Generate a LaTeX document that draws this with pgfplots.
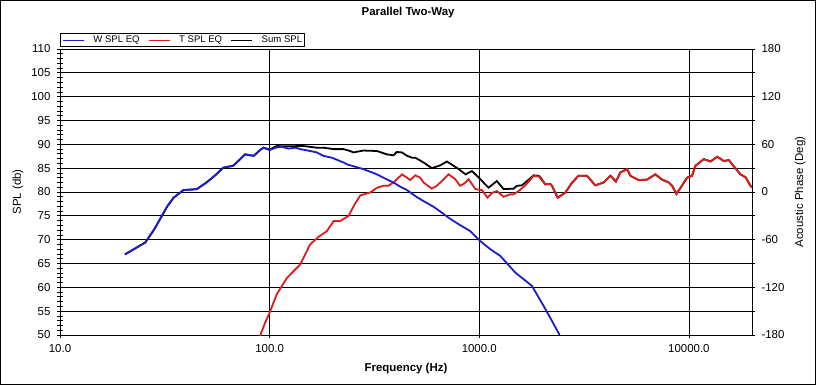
\documentclass[border=0pt]{standalone}
\usepackage{fontspec}
\setmainfont{Liberation Sans}
\usepackage{pgfplots}
\usepackage{pgfplotstable}
\pgfplotsset{compat=1.18}
\definecolor{wblue}{RGB}{28,28,205}
\definecolor{tred}{RGB}{222,28,28}

\pgfplotstableread{
f spl
20.4 66.9
22.5 68.0
25.5 69.4
28 72.0
30 74.3
32.5 77.0
34.8 78.8
38.8 80.4
44.9 80.6
50 82.0
55 83.5
60 85.1
67 85.5
72 86.8
76.3 87.9
80.7 87.7
84 87.6
90 88.8
93.4 89.3
100 88.8
107 89.3
114 89.5
123 89.1
132.5 89.3
140 89.0
156 88.6
168 88.3
180 87.6
198 87.2
225 86.2
234 85.8
280 84.8
325 83.7
376 82.3
390 82.0
420 81.1
452 80.4
469 79.9
505 78.9
542 78.1
605 76.9
652 75.9
714 74.6
800 73.2
874 72.2
906 71.8
1011 69.7
1129 68.0
1259 66.6
1485 63.1
1650 61.5
1784 60.3
2027 56.1
2200 53.3
2417 50.0
}\wtable

\pgfplotstableread{
f spl
90 49.8
95 52.5
100 54.7
108 58.5
121 62.0
140 64.8
156 69.0
170 70.5
187.6 71.8
202 73.9
217 73.9
238 75.0
255 77.5
271 79.3
302 79.9
325 80.9
349 81.3
368 81.3
390 82.0
428 83.7
452 83.0
469 82.5
495 83.5
523 83.0
542 82.0
594 80.7
627 81.3
652 82.0
714 83.7
768 82.7
810 81.3
850 81.8
889 82.7
958 80.6
1030 80.4
1094 78.8
1150 79.8
1213 80.2
1306 79.0
1400 79.5
1457 79.5
1540 80.2
1659 81.4
1818 83.4
1955 83.2
2066 81.6
2183 81.7
2222 81.3
2366 78.8
2576 79.9
2773 82.0
2978 83.4
3266 83.4
3578 81.4
3920 82.0
4220 83.4
4489 82.2
4710 84.1
5070 84.8
5260 83.4
5754 82.5
6310 82.6
6916 83.7
7447 82.6
8016 82.0
8318 81.3
8717 79.6
9102 80.8
9795 83.0
10350 83.4
10740 85.5
11770 86.9
12680 86.4
13650 87.4
14670 86.5
15500 86.7
16080 85.8
17620 83.7
18620 83.1
19680 81.3
20000 81.0
}\ttable

\pgfplotstableread{
f spl
20.4 66.9
22.5 68.0
25.5 69.4
28 72.0
30 74.3
32.5 77.0
34.8 78.8
38.8 80.4
44.9 80.6
50 82.0
55 83.5
60 85.1
67 85.5
72 86.8
76.3 87.9
80.7 87.7
84 87.6
90 88.8
93.4 89.3
100 88.9
108 89.65
114 89.6
125 89.6
145 89.65
168 89.3
180 89.3
202 89.0
225 89.0
242 88.6
251 88.3
280 88.7
325 88.6
362 87.9
390 87.7
404 88.4
428 88.3
452 87.6
478 87.2
495 87.2
542 86.2
594 85.0
652 85.6
701 86.4
755 85.5
798 84.8
860 83.7
923 84.4
1011 82.7
1107 80.9
1213 82.3
1306 80.6
1457 80.7
1514 81.3
1599 81.4
1691 82.3
1818 83.5
1920 83.4
2066 81.6
2183 81.7
2222 81.3
2366 78.8
2576 79.9
2773 82.0
2978 83.4
3266 83.4
3578 81.4
3920 82.0
4220 83.4
4489 82.2
4710 84.1
5070 84.8
5260 83.4
5754 82.5
6310 82.6
6916 83.7
7447 82.6
8016 82.0
8318 81.3
8717 79.6
9102 80.8
9795 83.0
10350 83.4
10740 85.5
11770 86.9
12680 86.4
13650 87.4
14670 86.5
15500 86.7
16080 85.8
17620 83.7
18620 83.1
19680 81.3
20000 81.0
}\stable

\begin{document}
\begin{tikzpicture}[font=\fontsize{11.5}{13}\selectfont]
\begin{axis}[
  at={(0,0)}, anchor=south west,
  scale only axis, width=692bp, height=286bp,
  xmode=log, log basis x=10,
  xmin=10, xmax=20000, ymin=50, ymax=110,
  xtick={10,100,1000,10000},
  xticklabels={10.0,100.0,1000.0,10000.0},
  ytick={50,55,...,110},
  yticklabels={50,55,60,65,70,75,80,85,90,95,100,105,110},
  minor y tick num=4,
  tick pos=left, tick align=center,
  major tick length=6bp, minor tick length=6bp,
  every tick/.style={black, line width=0.8bp},
  xmajorgrids, xminorgrids, ymajorgrids,
  major grid style={black, line width=0.8bp},
  minor grid style={black!50, dotted, line width=0.6bp},
  axis line style={black, line width=0.8bp},
  xticklabel style={yshift=-3bp},
  yticklabel style={xshift=-3bp},
  every axis title shift=0pt,
  title={Parallel Two-Way},
  title style={at={(axis description cs:0.503,1.126)}, anchor=center, font=\fontsize{11.5}{13}\selectfont\bfseries},
  xlabel={Frequency (Hz)},
  xlabel style={at={(axis description cs:0.5,-0.119)}, anchor=center, font=\fontsize{11.5}{13}\selectfont\bfseries},
  ylabel={SPL (db)},
  ylabel style={at={(axis description cs:-0.0607,0.5)}, anchor=center},
  legend columns=3,
  legend style={at={(axis description cs:0,1)}, anchor=south west, yshift=2bp,
    draw=black, line width=0.8bp, inner xsep=2bp, inner ysep=2.5bp, row sep=0bp,
    nodes={inner sep=0bp},
    font=\fontsize{9.6}{10}\selectfont,
    /tikz/every even column/.append style={column sep=8.5bp},
    /tikz/every odd column/.append style={column sep=9bp}},
]
\addlegendimage{legend image code/.code={\draw[wblue, line width=1bp] (0bp,0bp) -- (21bp,0bp);}}
\addlegendentry{W SPL EQ}
\addlegendimage{legend image code/.code={\draw[tred, line width=1bp] (0bp,0bp) -- (21bp,0bp);}}
\addlegendentry{T SPL EQ}
\addlegendimage{legend image code/.code={\draw[black, line width=1bp] (0bp,0bp) -- (21bp,0bp);}}
\addlegendentry{Sum SPL\hspace{9bp}}
\addplot[forget plot, black, line width=1.8bp] table[x=f, y=spl] {\stable};
\addplot[forget plot, tred, line width=1.8bp] table[x=f, y=spl] {\ttable};
\addplot[forget plot, wblue, line width=1.8bp] table[x=f, y=spl] {\wtable};
\end{axis}
\begin{axis}[
  at={(0,0)}, anchor=south west,
  scale only axis, width=692bp, height=286bp,
  xmode=log, xmin=10, xmax=20000,
  ymin=-180, ymax=180,
  axis x line=none, axis y line*=right,
  ytick={-180,-150,...,180},
  yticklabels={-180,,-120,,-60,,0,,60,,120,,180},
  tick align=outside, major tick length=3bp,
  every tick/.style={black, line width=0.8bp},
  axis line style={black, line width=0.8bp},
  yticklabel style={xshift=3bp},
  ylabel={Acoustic Phase (Deg)},
  ylabel style={at={(axis description cs:1.0694,0.5)}, anchor=center},
]
\addplot[draw=none, forget plot] coordinates {(100,0)};
\end{axis}
\pgfresetboundingbox
\path (-60bp,-50bp) rectangle (756bp,335bp);
\draw[line width=1bp] (-59.5bp,-49.5bp) rectangle (755.5bp,334.5bp);
\end{tikzpicture}
\end{document}
